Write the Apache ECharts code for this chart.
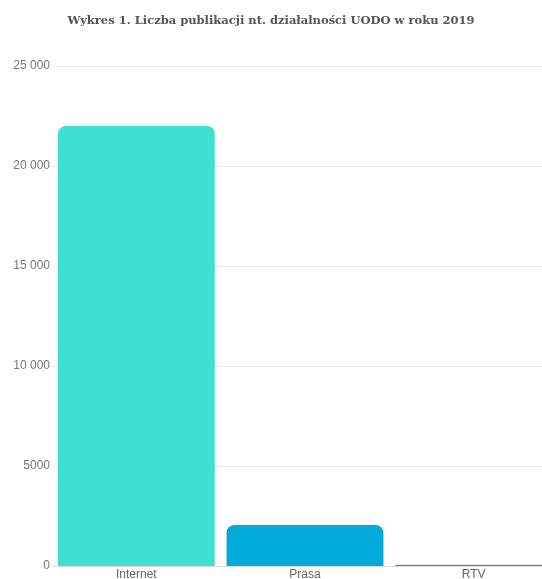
<!DOCTYPE html>
<html>
<head>
<meta charset="utf-8">
<script src="https://cdn.jsdelivr.net/npm/echarts@6/dist/echarts.min.js"></script>
<style>
  html, body { margin: 0; padding: 0; background: #fff; }
  #main { width: 542px; height: 579px; }
</style>
</head>
<body>
<div id="main"></div>
<script>
const categories = ["Internet", "Prasa", "RTV"];
const values = [22000, 2050, 60];
const barColors = ["#3de0d2", "#00abda", "#7c7c9e"];
const yTicks = [0, 5000, 10000, 15000, 20000, 25000];

// format like Polish locale: space as thousands separator only from 5 digits
function fmt(v) {
  if (v < 10000) return String(v);
  return String(v).replace(/\B(?=(\d{3})+(?!\d))/g, " ");
}

const chart = echarts.init(document.getElementById("main"));
chart.setOption({
  animation: false,
  title: {
    text: "Wykres 1. Liczba publikacji nt. działalności UODO w roku 2019",
    left: "center",
    top: 10,
    textStyle: {
      fontFamily: "DejaVu Serif",
      fontSize: 11.5,
      fontWeight: "bold",
      color: "#555"
    }
  },
  // plot area runs past the right edge, as in the cropped original
  grid: { left: 52, top: 66, width: 506, bottom: 13, outerBoundsMode: "none" },
  xAxis: {
    type: "category",
    data: categories,
    axisTick: { show: false },
    axisLine: { lineStyle: { color: "#dcdcdc" } },
    axisLabel: { margin: 3, fontSize: 12, color: "#666", fontFamily: "Liberation Sans" }
  },
  yAxis: {
    type: "value",
    min: yTicks[0],
    max: yTicks[yTicks.length - 1],
    interval: 5000,
    axisLabel: {
      fontSize: 12,
      color: "#777",
      margin: 2,
      fontFamily: "Liberation Sans",
      formatter: fmt
    },
    splitLine: { lineStyle: { color: "#e8e8e8" } }
  },
  series: [{
    type: "bar",
    barCategoryGap: "7%",
    data: values.map((v, i) => ({ value: v, itemStyle: { color: barColors[i] } })),
    itemStyle: { borderRadius: [8, 8, 0, 0] }
  }]
});
</script>
</body>
</html>
